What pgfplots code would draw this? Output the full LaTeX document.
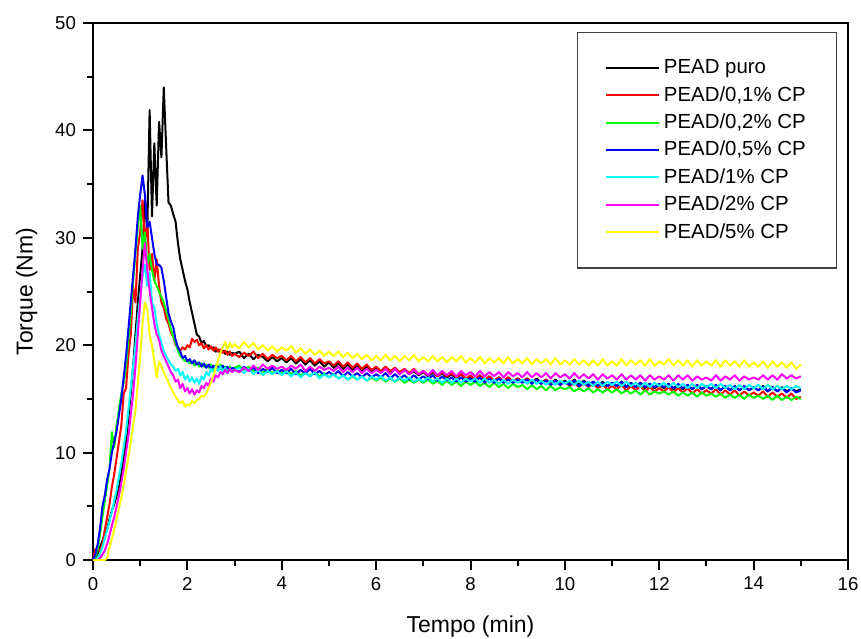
\documentclass[border=0pt]{standalone}
\usepackage{fontspec}
\setmainfont{Liberation Sans}
\usepackage{pgfplots}
\usepackage{pgfplotstable}
\pgfplotsset{compat=1.18}

\definecolor{cK}{RGB}{0,0,0}
\definecolor{cR}{RGB}{255,0,0}
\definecolor{cG}{RGB}{0,255,0}
\definecolor{cB}{RGB}{0,0,255}
\definecolor{cC}{RGB}{0,255,255}
\definecolor{cM}{RGB}{255,0,255}
\definecolor{cY}{RGB}{255,255,0}

% torque (Nm) vs time (min); k = puro, r = 0,1%, g = 0,2%, b = 0,5%, c = 1%, m = 2%, y = 5%
\pgfplotstableread{
t k r g b c m y
0 0 0 0 0 0 0 0
0.05 0.2 1.0 0.3 0.5 0 0 0
0.1 0.6 1.1 1.0 1.5 0.2 0 0
0.15 1.2 0.8 2.5 3.0 0.6 0.2 0
0.2 1.8 1.5 4.0 5.0 1.2 0.5 0
0.25 2.4 2.8 5.5 6.0 2.0 0.9 0
0.3 2.9 4.0 7.0 7.5 2.8 1.5 0.2
0.35 3.8 5.2 8.5 8.5 3.6 2.3 1.2
0.4 4.6 6.8 11.9 10.0 4.5 3.2 2.0
0.45 5.2 8.0 10.5 11.0 5.5 4.0 2.8
0.5 6.0 9.5 12.5 12.0 6.5 5.0 3.8
0.55 6.8 11.0 14.0 13.5 7.8 6.0 4.8
0.6 8.0 12.5 15.5 15.0 9.0 7.2 5.8
0.65 9.5 15.5 16.5 17.0 10.5 8.5 7.0
0.7 11.0 16.0 18.0 19.0 12.0 10.0 8.2
0.75 13.2 19.0 20.5 21.5 14.0 11.5 9.5
0.8 15.5 21.0 23.0 24.0 16.0 13.5 11.0
0.85 18.0 25.5 26.0 26.5 18.0 15.5 12.5
0.9 21.0 24.0 28.5 29.0 20.0 18.0 14.0
0.95 24.0 29.0 31.0 32.0 22.5 21.0 16.5
1.0 26.5 30.5 33.0 34.0 24.5 24.0 19.0
1.05 29.0 33.5 29.0 35.8 26.5 27.0 22.0
1.1 33.5 29.5 30.5 34.0 27.5 29.5 24.0
1.15 30.5 31.5 27.5 31.0 25.5 27.0 23.3
1.2 41.9 27.0 28.5 31.5 26.8 25.0 21.0
1.25 32.0 28.5 27.0 30.0 24.0 23.5 20.0
1.3 38.8 26.0 26.0 28.5 23.5 22.0 18.5
1.35 33.0 28.0 25.5 27.5 22.0 21.0 17.0
1.4 40.8 25.5 25.0 27.5 21.0 20.5 18.5
1.45 37.5 24.0 24.5 27.2 20.2 19.5 18.0
1.5 44.0 23.5 24.0 26.0 19.5 19.0 17.5
1.55 38.5 22.5 23.2 24.5 19.0 18.5 17.0
1.6 33.3 22.0 22.5 23.0 18.6 18.0 16.5
1.65 33.0 21.2 21.5 22.2 18.2 17.5 16.0
1.7 32.2 20.8 20.8 21.7 18.0 17.2 15.6
1.75 31.5 20.0 20.2 20.5 17.6 16.6 15.2
1.8 29.5 19.8 19.5 19.8 17.8 16.8 14.9
1.85 28.0 19.5 19.0 19.4 17.2 16.0 14.6
1.9 27.0 19.8 18.8 18.8 17.5 16.4 14.8
1.95 26.0 19.6 18.5 19.0 16.8 15.7 14.3
2.0 25.2 20.0 18.6 18.5 17.2 16.0 14.5
2.05 24.0 19.8 18.3 18.7 16.6 15.5 14.4
2.1 23.0 20.6 18.5 18.3 17.0 15.9 14.8
2.15 22.0 20.3 18.1 18.6 16.5 15.4 14.6
2.2 21.0 20.5 18.4 18.2 16.9 15.8 14.9
2.25 20.8 20.0 18.0 18.4 16.4 15.6 15.0
2.3 20.2 20.2 18.3 18.0 17.1 16.2 15.3
2.35 20.4 19.7 18.0 18.3 16.8 16.0 15.2
2.4 19.9 20.0 18.2 17.9 17.5 16.5 15.5
2.45 20.0 19.6 17.9 18.2 17.2 16.2 16.0
2.5 19.7 19.9 18.2 17.8 17.8 16.9 16.5
2.55 19.8 19.5 17.8 18.1 17.5 16.6 17.2
2.6 19.4 19.8 18.1 17.7 18.0 17.2 17.8
2.65 19.6 19.4 17.9 18.0 17.6 17.0 18.6
2.7 19.3 19.6 18.2 17.8 18.0 17.5 19.3
2.75 19.5 19.3 17.8 18.1 17.5 17.3 19.8
2.8 19.2 19.5 18.0 17.7 17.9 17.7 20.3
2.85 19.4 19.1 17.7 18.0 17.4 17.4 19.6
2.9 19.1 19.4 18.0 17.6 17.8 17.8 20.2
2.95 19.3 19.0 17.8 17.9 17.5 17.5 19.8
3.0 19.2 19.2 17.9 17.8 17.7 17.7 20.1
3.1 19.4 18.9 18.1 17.5 17.9 17.5 19.7
3.2 18.8 19.3 17.7 18.0 17.4 17.9 20.3
3.3 19.2 19.0 18.0 17.6 17.8 17.6 19.8
3.4 18.7 19.4 17.6 17.9 17.3 18.1 20.2
3.5 19.1 18.8 17.9 17.4 17.7 17.7 19.6
3.6 18.9 19.2 17.5 17.8 17.2 18.2 20.0
3.7 18.5 18.7 17.8 17.5 17.6 17.8 19.5
3.8 18.9 19.1 17.4 17.9 17.3 18.1 19.9
3.9 18.5 18.8 17.7 17.4 17.6 17.8 19.4
4.0 18.8 19.0 17.4 17.7 17.2 18.0 19.8
4.1 18.4 18.6 17.7 17.4 17.6 17.7 19.5
4.2 18.8 19.0 17.3 17.8 17.1 18.1 19.9
4.3 18.3 18.5 17.6 17.3 17.5 17.8 19.3
4.4 18.7 18.9 17.2 17.7 17.0 18.2 19.7
4.5 18.2 18.4 17.5 17.4 17.4 17.6 19.2
4.6 18.6 18.8 17.1 17.8 17.1 18.0 19.6
4.7 18.1 18.3 17.5 17.3 17.5 17.6 19.1
4.8 18.5 18.7 17.1 17.6 16.9 18.0 19.5
4.9 18.0 18.3 17.4 17.2 17.3 17.7 19.0
5.0 18.4 18.5 17.0 17.5 17.0 17.9 19.4
5.1 17.9 18.1 17.3 17.2 17.3 17.6 19.0
5.2 18.3 18.5 16.9 17.6 16.9 18.0 19.4
5.3 17.8 18.0 17.2 17.1 17.2 17.5 18.9
5.4 18.2 18.4 16.8 17.5 16.8 17.9 19.3
5.5 17.7 17.9 17.1 17.1 17.2 17.5 18.8
5.6 18.1 18.3 16.8 17.4 16.8 17.9 19.2
5.7 17.6 17.8 17.1 17.0 17.1 17.4 18.7
5.8 18.0 18.2 16.7 17.4 16.7 17.8 19.1
5.9 17.5 17.7 17.0 17.0 17.1 17.4 18.6
6.0 17.9 18.0 16.7 17.3 16.8 17.7 19.0
6.1 17.5 17.6 17.0 17.0 17.1 17.4 18.6
6.2 17.9 18.0 16.6 17.4 16.7 17.8 19.1
6.3 17.4 17.6 16.9 16.9 17.0 17.3 18.6
6.4 17.8 17.9 16.6 17.3 16.6 17.8 19.0
6.5 17.3 17.5 16.9 16.9 17.0 17.3 18.5
6.6 17.7 17.8 16.5 17.2 16.7 17.7 19.0
6.7 17.3 17.4 16.8 16.8 17.0 17.3 18.6
6.8 17.6 17.8 16.5 17.2 16.6 17.7 19.1
6.9 17.2 17.3 16.8 16.8 16.9 17.3 18.5
7.0 17.5 17.6 16.5 17.1 16.6 17.6 18.9
7.1 17.1 17.2 16.8 16.8 17.0 17.2 18.5
7.2 17.5 17.6 16.4 17.2 16.6 17.7 19.0
7.3 17.1 17.1 16.7 16.7 16.9 17.2 18.5
7.4 17.4 17.5 16.3 17.1 16.5 17.6 18.9
7.5 17.0 17.1 16.7 16.7 16.9 17.2 18.4
7.6 17.3 17.4 16.3 17.0 16.5 17.6 18.9
7.7 16.9 17.0 16.6 16.6 16.9 17.1 18.5
7.8 17.3 17.3 16.2 17.0 16.5 17.6 19.0
7.9 16.8 16.9 16.6 16.6 16.9 17.2 18.4
8.0 17.1 17.2 16.3 16.9 16.6 17.5 18.8
8.1 16.8 16.8 16.6 16.6 16.9 17.1 18.4
8.2 17.2 17.2 16.2 17.0 16.5 17.6 18.9
8.3 16.7 16.8 16.5 16.5 16.9 17.1 18.3
8.4 17.1 17.1 16.1 16.9 16.5 17.5 18.8
8.5 16.7 16.7 16.5 16.5 16.8 17.1 18.4
8.6 17.0 17.0 16.1 16.9 16.4 17.5 18.8
8.7 16.6 16.7 16.4 16.5 16.8 17.0 18.3
8.8 17.0 17.0 16.0 16.8 16.4 17.5 18.9
8.9 16.6 16.6 16.4 16.5 16.8 17.1 18.3
9.0 16.9 16.9 16.1 16.8 16.5 17.4 18.7
9.1 16.6 16.6 16.3 16.5 16.8 17.0 18.3
9.2 16.9 16.9 15.9 16.8 16.4 17.5 18.8
9.3 16.5 16.5 16.3 16.4 16.8 17.0 18.2
9.4 16.9 16.8 15.9 16.8 16.4 17.4 18.7
9.5 16.5 16.4 16.2 16.4 16.7 17.0 18.3
9.6 16.8 16.8 15.8 16.7 16.3 17.4 18.7
9.7 16.4 16.3 16.2 16.3 16.7 16.9 18.2
9.8 16.8 16.7 15.8 16.7 16.3 17.4 18.8
9.9 16.4 16.3 16.1 16.3 16.7 17.0 18.2
10.0 16.7 16.6 15.9 16.6 16.4 17.3 18.6
10.1 16.4 16.2 16.1 16.3 16.7 16.9 18.2
10.2 16.8 16.5 15.7 16.7 16.3 17.4 18.7
10.3 16.3 16.1 16.0 16.2 16.7 16.9 18.2
10.4 16.7 16.5 15.7 16.6 16.3 17.3 18.6
10.5 16.3 16.1 16.0 16.2 16.6 16.9 18.1
10.6 16.6 16.4 15.6 16.6 16.2 17.3 18.6
10.7 16.2 16.0 15.9 16.2 16.6 16.8 18.1
10.8 16.6 16.3 15.6 16.5 16.2 17.3 18.7
10.9 16.2 15.9 15.9 16.2 16.6 16.9 18.1
11.0 16.5 16.2 15.6 16.5 16.3 17.2 18.5
11.1 16.2 15.9 15.9 16.2 16.6 16.8 18.1
11.2 16.6 16.3 15.5 16.6 16.2 17.3 18.7
11.3 16.1 15.8 15.8 16.1 16.6 16.8 18.1
11.4 16.5 16.2 15.5 16.5 16.2 17.2 18.6
11.5 16.1 15.8 15.8 16.1 16.5 16.8 18.2
11.6 16.5 16.2 15.4 16.5 16.1 17.2 18.6
11.7 16.0 15.7 15.8 16.1 16.5 16.7 18.1
11.8 16.4 16.1 15.4 16.4 16.1 17.2 18.7
11.9 16.0 15.7 15.7 16.1 16.5 16.8 18.1
12.0 16.3 16.0 15.5 16.4 16.2 17.1 18.5
12.1 16.0 15.7 15.7 16.1 16.5 16.8 18.2
12.2 16.4 16.1 15.4 16.4 16.1 17.2 18.7
12.3 15.9 15.6 15.7 16.0 16.5 16.7 18.1
12.4 16.3 16.0 15.3 16.4 16.1 17.2 18.6
12.5 15.9 15.6 15.6 16.0 16.4 16.8 18.1
12.6 16.3 16.0 15.3 16.3 16.0 17.2 18.6
12.7 15.9 15.5 15.6 15.9 16.4 16.7 18.0
12.8 16.3 15.9 15.2 16.3 16.0 17.1 18.6
12.9 15.9 15.5 15.6 15.9 16.4 16.8 18.1
13.0 16.2 15.8 15.3 16.2 16.1 17.0 18.5
13.1 15.9 15.5 15.5 15.9 16.4 16.7 18.1
13.2 16.3 15.9 15.2 16.3 16.0 17.2 18.6
13.3 15.8 15.4 15.5 15.8 16.4 16.7 18.0
13.4 16.2 15.8 15.1 16.2 16.0 17.1 18.6
13.5 15.8 15.4 15.4 15.8 16.3 16.8 18.1
13.6 16.2 15.8 15.1 16.2 15.9 17.2 18.5
13.7 15.8 15.3 15.4 15.8 16.3 16.7 18.0
13.8 16.2 15.7 15.0 16.2 15.9 17.1 18.6
13.9 15.8 15.3 15.4 15.8 16.3 16.8 18.0
14.0 16.1 15.6 15.1 16.1 16.0 17.0 18.4
14.1 15.8 15.3 15.3 15.8 16.3 16.8 18.0
14.2 16.2 15.7 15.0 16.1 15.9 17.2 18.5
14.3 15.7 15.2 15.3 15.7 16.3 16.8 17.9
14.4 16.1 15.6 14.9 16.1 15.9 17.2 18.5
14.5 15.7 15.2 15.3 15.7 16.2 16.8 18.0
14.6 16.1 15.5 14.9 16.0 15.9 17.3 18.4
14.7 15.7 15.1 15.2 15.6 16.2 16.9 17.9
14.8 16.0 15.5 14.9 16.0 15.9 17.2 18.4
14.9 15.7 15.0 15.2 15.6 16.2 16.9 17.8
15.0 15.9 15.2 15.0 15.8 16.0 17.1 18.2
}\torque

\begin{document}
\begin{tikzpicture}
\begin{axis}[
	scale only axis,
	width=377.5pt, height=268.5pt,
	xmin=0, xmax=16, ymin=0, ymax=50,
	xtick={0,2,...,16}, ytick={0,10,...,50},
	minor x tick num=1, minor y tick num=1,
	tick pos=left, tick align=outside,
	major tick length=5pt, minor tick length=3pt,
	axis line style={line width=1pt},
	every tick/.style={black, line width=1pt},
	/pgf/number format/assume math mode=true,
	tick label style={font=\fontsize{9.3}{11}\selectfont},
	label style={font=\fontsize{11.5}{13}\selectfont},
	xlabel={Tempo (min)}, ylabel={Torque (Nm)},
	xlabel style={yshift=-6pt}, ylabel style={yshift=2pt},
	legend style={at={(0.641,0.983)}, anchor=north west, draw=black!75, line width=0.6pt,
		font=\fontsize{10.2}{12}\selectfont, inner xsep=13.5pt, inner ysep=11.5pt,
		row sep=0.8pt, cells={anchor=west}},
	legend image code/.code={\draw[#1, line width=1pt] (0pt,0pt) -- (26.7pt,0pt);},
	every axis plot/.append style={line width=1pt, line join=round},
]
\addplot[cK] table[x=t, y=k] {\torque};
\addlegendentry{PEAD puro}
\addplot[cR] table[x=t, y=r] {\torque};
\addlegendentry{PEAD/0,1\% CP}
\addplot[cG] table[x=t, y=g] {\torque};
\addlegendentry{PEAD/0,2\% CP}
\addplot[cB] table[x=t, y=b] {\torque};
\addlegendentry{PEAD/0,5\% CP}
\addplot[cC] table[x=t, y=c] {\torque};
\addlegendentry{PEAD/1\% CP}
\addplot[cM] table[x=t, y=m] {\torque};
\addlegendentry{PEAD/2\% CP}
\addplot[cY] table[x=t, y=y] {\torque};
\addlegendentry{PEAD/5\% CP}
\end{axis}
\pgfresetboundingbox
\path (-46.5pt,-39pt) rectangle (384pt,280pt);
\end{tikzpicture}
\end{document}
